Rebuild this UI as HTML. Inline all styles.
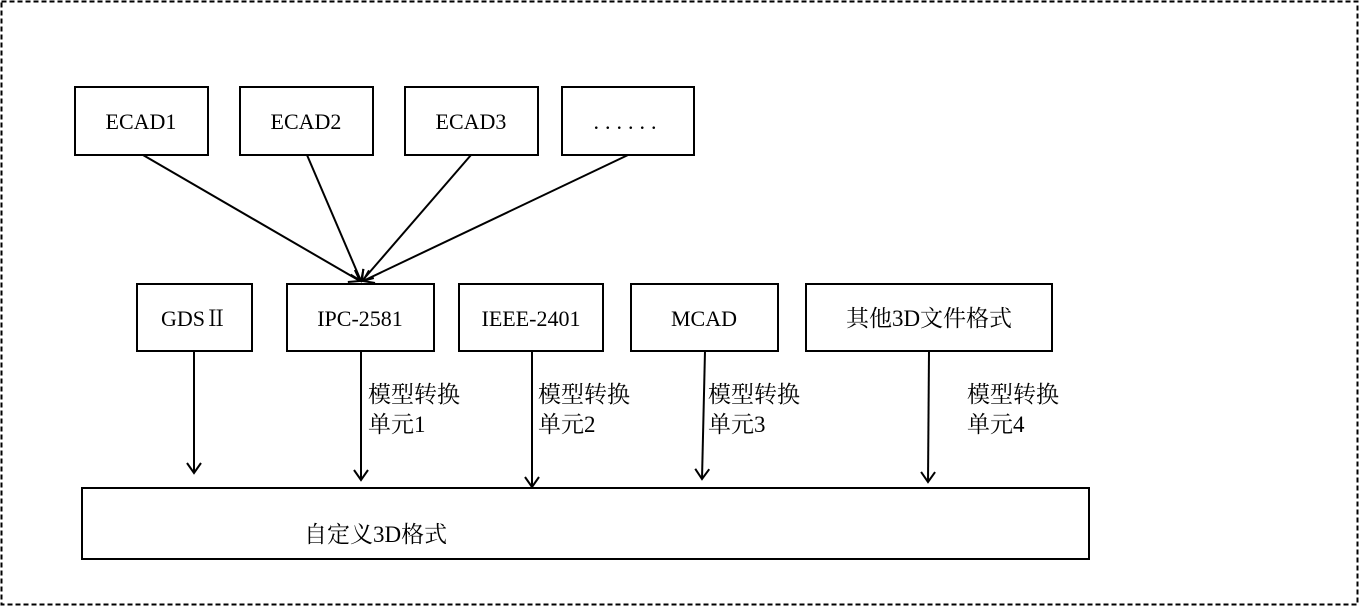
<!DOCTYPE html>
<html><head><meta charset="utf-8"><style>
html,body{margin:0;padding:0;background:#fff;}
svg text{font-family:"Liberation Serif","Noto Serif CJK SC",serif;fill:#000;}
</style></head><body>
<svg width="1362" height="608" xmlns="http://www.w3.org/2000/svg">
<defs><marker id="a" markerWidth="20" markerHeight="20" refX="11" refY="10" orient="auto" markerUnits="userSpaceOnUse"><path d="M1,3 L11,10 L1,17" fill="none" stroke="#000" stroke-width="2"/></marker></defs>
<rect x="1.5" y="1.5" width="1356" height="603" fill="none" stroke="#000" stroke-width="2" stroke-dasharray="5,3"/>
<g fill="none" stroke="#000" stroke-width="2">
<rect x="75" y="87" width="133" height="68"/>
<rect x="240" y="87" width="133" height="68"/>
<rect x="405" y="87" width="133" height="68"/>
<rect x="562" y="87" width="132" height="68"/>
<rect x="137" y="284" width="115" height="67"/>
<rect x="287" y="284" width="147" height="67"/>
<rect x="459" y="284" width="144" height="67"/>
<rect x="631" y="284" width="147" height="67"/>
<rect x="806" y="284" width="246" height="67"/>
<rect x="82" y="488" width="1007" height="71"/>
</g>
<g stroke="#000" stroke-width="2" marker-end="url(#a)">
<line x1="143" y1="155" x2="360" y2="281"/>
<line x1="307" y1="155" x2="361" y2="281"/>
<line x1="471" y1="155" x2="362" y2="281"/>
<line x1="628" y1="155" x2="363" y2="281"/>
<line x1="194" y1="351" x2="194" y2="473"/>
<line x1="361" y1="351" x2="361" y2="480"/>
<line x1="532" y1="351" x2="532" y2="487"/>
<line x1="705" y1="351" x2="702" y2="479"/>
<line x1="929" y1="351" x2="928" y2="482"/>
</g>
<g font-size="22" text-anchor="middle">
<text x="141" y="129">ECAD1</text>
<text x="306" y="129">ECAD2</text>
<text x="471" y="129">ECAD3</text>
<text x="628" y="129" letter-spacing="6">......</text>
<text x="194" y="326">GDSⅡ</text>
<text x="360" y="326">IPC-2581</text>
<text x="531" y="326">IEEE-2401</text>
<text x="704" y="326">MCAD</text>
<text x="929" y="326" font-size="23">其他3D文件格式</text>
</g>
<g font-size="23">
<text x="368" y="402">模型转换</text><text x="368" y="432">单元1</text>
<text x="538" y="402">模型转换</text><text x="538" y="432">单元2</text>
<text x="708" y="402">模型转换</text><text x="708" y="432">单元3</text>
<text x="967" y="402">模型转换</text><text x="967" y="432">单元4</text>
<text x="304" y="542">自定义3D格式</text>
</g>
</svg>
</body></html>
